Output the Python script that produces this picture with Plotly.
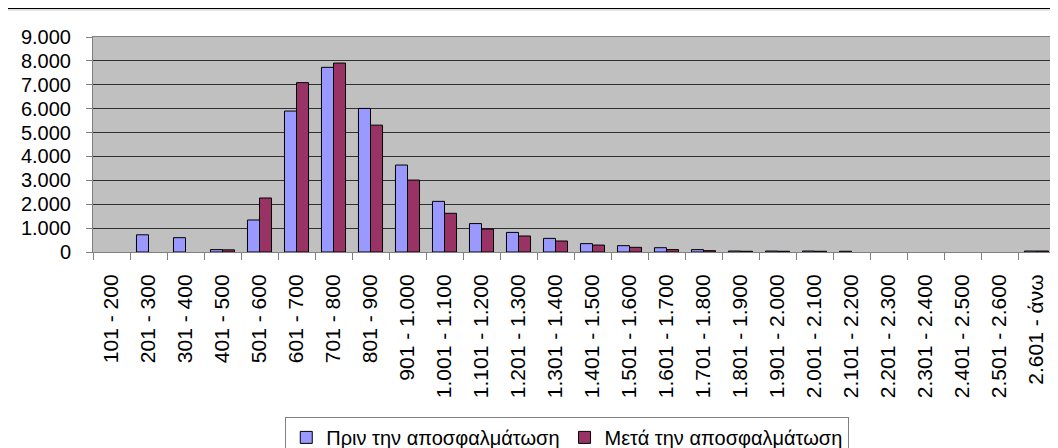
import plotly.graph_objects as go

categories = ["101 - 200", "201 - 300", "301 - 400", "401 - 500", "501 - 600",
              "601 - 700", "701 - 800", "801 - 900", "901 - 1.000", "1.001 - 1.100",
              "1.101 - 1.200", "1.201 - 1.300", "1.301 - 1.400", "1.401 - 1.500",
              "1.501 - 1.600", "1.601 - 1.700", "1.701 - 1.800", "1.801 - 1.900",
              "1.901 - 2.000", "2.001 - 2.100", "2.101 - 2.200", "2.201 - 2.300",
              "2.301 - 2.400", "2.401 - 2.500", "2.501 - 2.600", "2.601 - άνω"]

before = [0, 720, 600, 100, 1340, 5900, 7730, 6010, 3640, 2120, 1190, 820, 570,
          350, 265, 180, 100, 40, 40, 40, 30, 0, 0, 0, 0, 40]
after = [0, 0, 0, 90, 2260, 7090, 7910, 5310, 3010, 1620, 960, 670, 460,
         290, 195, 100, 55, 30, 30, 30, 0, 0, 0, 0, 0, 40]

names = ["Πριν την αποσφαλμάτωση", "Μετά την αποσφαλμάτωση"]
colors = ["#9999FF", "#993366"]

FONT = "Liberation Sans, Arial, sans-serif"

fig = go.Figure()
for vals, name, col in zip([before, after], names, colors):
    # empty classes get no bar at all (no outline stub)
    shown = [v if v else None for v in vals]
    fig.add_trace(go.Bar(x=categories, y=shown, name=name,
                         marker=dict(color=col, line=dict(color="black", width=1))))

# page body has an 8px margin, so the figure is 8px smaller than the window
fig.update_layout(
    width=1050, height=440,
    margin=dict(l=85, r=3, t=29, b=196, autoexpand=False),
    paper_bgcolor="white", plot_bgcolor="#C0C0C0",
    barmode="group", bargap=0.35, bargroupgap=0,
    separators=",.",
    font=dict(family=FONT, size=20, color="black"),
    showlegend=True,
    legend=dict(orientation="h", x=0.493, xanchor="center", y=-0.767, yanchor="top",
                bordercolor="#808080", borderwidth=1, bgcolor="white",
                font=dict(family=FONT, size=20, color="black"),
                itemwidth=30, traceorder="normal"),
    xaxis=dict(type="category", tickangle=-90, tickson="boundaries",
               ticks="outside", ticklen=7, tickcolor="#808080",
               showline=True, linecolor="#808080", linewidth=1, mirror=True,
               showgrid=False, ticklabelstandoff=13,
               tickfont=dict(family=FONT, size=21, color="black")),
    yaxis=dict(range=[0, 9000], tick0=0, dtick=1000, tickformat=",d",
               ticks="outside", ticklen=6, tickcolor="#808080",
               showline=True, linecolor="#808080", linewidth=1, mirror=True,
               showgrid=True, gridcolor="#303030", gridwidth=1.3, zeroline=False,
               ticklabelstandoff=11,
               tickfont=dict(family=FONT, size=20, color="black")),
)

fig.add_shape(type="line", xref="paper", yref="paper",
              x0=-0.0884, x1=1.01, y0=1.135, y1=1.135,
              line=dict(color="black", width=2))
fig.add_shape(type="line", xref="paper", yref="paper",
              x0=-0.0884, x1=1.01, y0=1.126, y1=1.126,
              line=dict(color="#c8c8c8", width=1))

fig.write_html("out.html")
